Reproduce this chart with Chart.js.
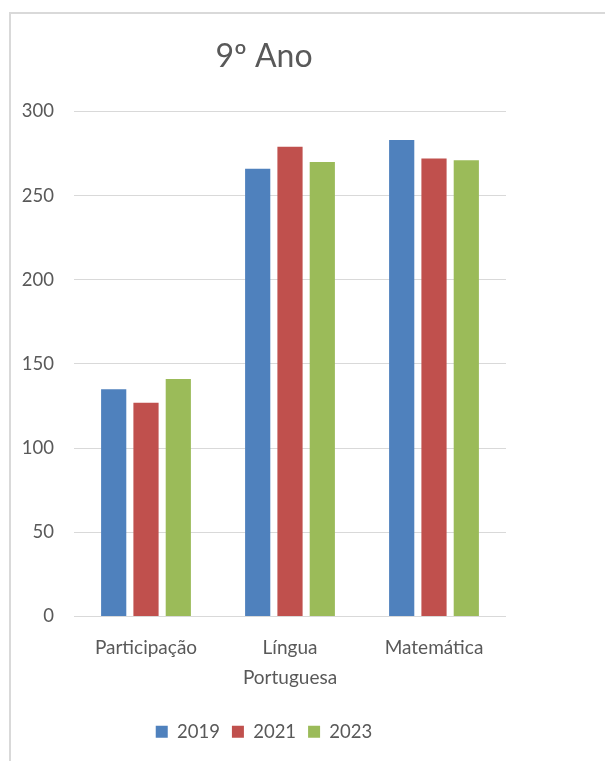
<!DOCTYPE html>
<html>
<head>
<meta charset="utf-8">
<script src="https://cdn.jsdelivr.net/npm/chart.js@4"></script>
<style>
  body { margin: 0; background: #fff; }
  #frame {
    position: absolute; left: 9px; top: 12px; width: 700px; height: 800px;
    border: 2px solid #d9d9d9;
  }
  #wrap { position: absolute; left: 0; top: 0; width: 605px; height: 761px; }
</style>
</head>
<body>
<div id="frame"></div>
<div id="wrap"><canvas id="chart"></canvas></div>
<script>
// Données
const categories = ['Participação', ['Língua', 'Portuguesa'], 'Matemática'];
const seriesLabels = ['2019', '2021', '2023'];
const values2019 = [135, 266, 283];
const values2021 = [127, 279, 272];
const values2023 = [141, 270, 271];
const yTicks = [0, 50, 100, 150, 200, 250, 300];

const colors = ['#4F81BD', '#C0504D', '#9BBB59'];
const textColor = '#595959';
const fontFamily = 'Lato, "Liberation Sans", sans-serif';

const ctx = document.getElementById('chart');

new Chart(ctx, {
  type: 'bar',
  data: {
    labels: categories,
    datasets: [values2019, values2021, values2023].map((vals, i) => ({
      label: seriesLabels[i],
      data: vals,
      backgroundColor: colors[i],
      borderWidth: 0,
      categoryPercentage: 0.673,
      barPercentage: 0.78
    }))
  },
  options: {
    responsive: true,
    maintainAspectRatio: false,
    animation: false,
    layout: {
      padding: { left: 22, right: 99, top: 0, bottom: 10 }
    },
    scales: {
      x: {
        grid: { display: false, drawTicks: false },
        border: { display: false },
        ticks: {
          color: textColor,
          padding: 16,
          maxRotation: 0,
          autoSkip: false,
          font: { family: fontFamily, size: 19, lineHeight: 1.58 }
        },
        afterFit: (scale) => { scale.height = 94; }
      },
      y: {
        min: 0,
        max: 300,
        grid: { color: '#d9d9d9', lineWidth: 1, drawTicks: false },
        border: { display: false },
        ticks: {
          stepSize: 50,
          padding: 20,
          color: textColor,
          font: { family: fontFamily, size: 18.5 },
          callback: (v) => yTicks.includes(v) ? String(v) : ''
        },
        afterFit: (scale) => { scale.width = 52; }
      }
    },
    plugins: {
      title: {
        display: true,
        text: '9º Ano',
        color: textColor,
        font: { family: fontFamily, size: 32, weight: 'normal', lineHeight: 1.2 },
        padding: { top: 37, bottom: 36 }
      },
      legend: {
        position: 'bottom',
        labels: {
          color: textColor,
          boxWidth: 12,
          boxHeight: 12,
          padding: 12,
          font: { family: fontFamily, size: 18.5 }
        }
      },
      tooltip: { enabled: false }
    }
  }
});
</script>
</body>
</html>
